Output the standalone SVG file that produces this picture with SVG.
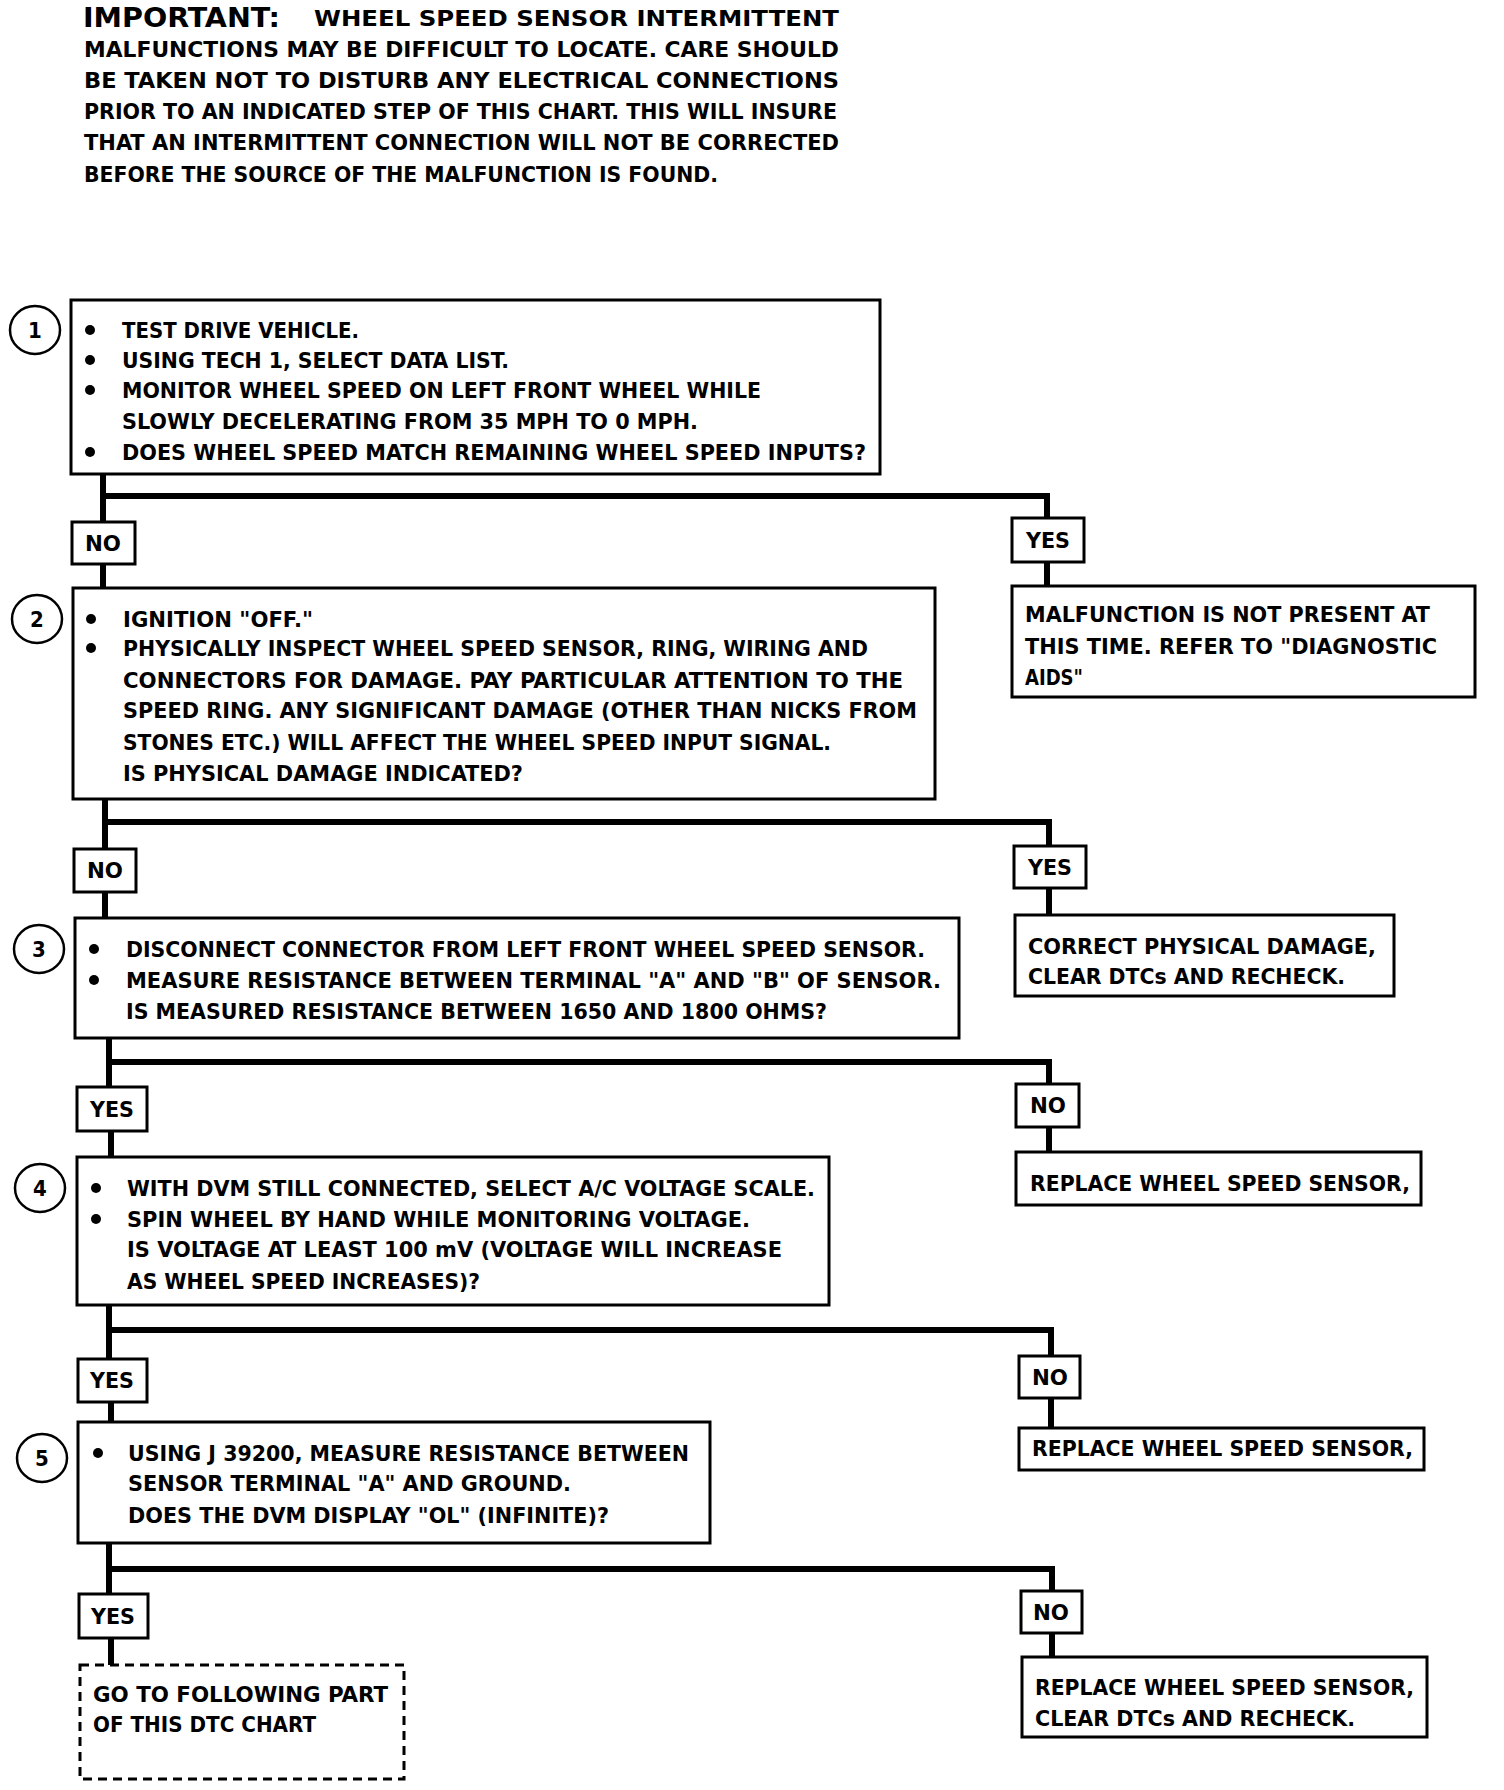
<svg xmlns="http://www.w3.org/2000/svg" width="1504" height="1790" viewBox="0 0 1504 1790">
<style>
text{font-family:"Liberation Sans Narrow","DejaVu Sans Condensed","Liberation Sans",sans-serif;font-weight:bold;font-size:22px;fill:#000}
.hd{font-size:22px}
.imp{font-size:26px;font-weight:bold;font-family:"DejaVu Sans Condensed","Liberation Sans",sans-serif}
.box{fill:#fff;stroke:#000;stroke-width:3}
.lbl{fill:#fff;stroke:#000;stroke-width:3}
.dash{fill:#fff;stroke:#000;stroke-width:3;stroke-dasharray:9 6}
.num{fill:#fff;stroke:#000;stroke-width:2.5}
.ln{fill:none;stroke:#000;stroke-width:6;stroke-linecap:square}
.bul{fill:#000}
.c{text-anchor:middle}
</style>
<rect width="1504" height="1790" fill="#fff"/>

<g id="note">
<text class="imp" x="83" y="27" textLength="197" lengthAdjust="spacingAndGlyphs">IMPORTANT:</text>
<text class="hd" x="314" y="26" textLength="525" lengthAdjust="spacingAndGlyphs">WHEEL SPEED SENSOR INTERMITTENT</text>
<text class="hd" x="84" y="57" textLength="755" lengthAdjust="spacingAndGlyphs">MALFUNCTIONS MAY BE DIFFICULT TO LOCATE.  CARE SHOULD</text>
<text class="hd" x="84" y="88" textLength="755" lengthAdjust="spacingAndGlyphs">BE TAKEN NOT TO DISTURB ANY ELECTRICAL CONNECTIONS</text>
<text class="hd" x="84" y="119" textLength="753" lengthAdjust="spacingAndGlyphs">PRIOR TO AN INDICATED STEP OF THIS CHART.  THIS WILL INSURE</text>
<text class="hd" x="84" y="150" textLength="755" lengthAdjust="spacingAndGlyphs">THAT AN INTERMITTENT CONNECTION WILL NOT BE CORRECTED</text>
<text class="hd" x="84" y="182" textLength="634" lengthAdjust="spacingAndGlyphs">BEFORE THE SOURCE OF THE MALFUNCTION IS FOUND.</text>
</g>

<g id="connectors">
<path class="ln" d="M103,474 V522 M103,496 H1047 V518 M103,564 V588 M1047,562 V586"/>
<path class="ln" d="M105,799 V849 M105,822 H1049 V846 M105,892 V918 M1049,888 V915"/>
<path class="ln" d="M109,1038 V1087 M109,1062 H1049 V1084 M111,1131 V1157 M1049,1127 V1152"/>
<path class="ln" d="M109,1305 V1359 M109,1330 H1051 V1356 M111,1402 V1422 M1051,1398 V1428"/>
<path class="ln" d="M109,1543 V1594 M109,1569 H1052 V1591 M111,1638 V1665 M1052,1633 V1657"/>
</g>

<g id="step1">
<ellipse class="num" cx="35" cy="330" rx="25" ry="24"/>
<text class="c" x="35" y="338">1</text>
<rect class="box" x="71" y="300" width="809" height="174"/>
<circle class="bul" cx="90" cy="330" r="5"/>
<circle class="bul" cx="90" cy="360" r="5"/>
<circle class="bul" cx="90" cy="390" r="5"/>
<circle class="bul" cx="90" cy="452" r="5"/>
<text x="122" y="338" textLength="237" lengthAdjust="spacingAndGlyphs">TEST DRIVE VEHICLE.</text>
<text x="122" y="368" textLength="387" lengthAdjust="spacingAndGlyphs">USING TECH 1, SELECT DATA LIST.</text>
<text x="122" y="398" textLength="639" lengthAdjust="spacingAndGlyphs">MONITOR WHEEL SPEED ON LEFT FRONT WHEEL WHILE</text>
<text x="122" y="429" textLength="576" lengthAdjust="spacingAndGlyphs">SLOWLY DECELERATING FROM 35 MPH TO 0 MPH.</text>
<text x="122" y="460" textLength="744" lengthAdjust="spacingAndGlyphs">DOES WHEEL SPEED MATCH REMAINING WHEEL SPEED INPUTS?</text>
</g>

<g id="no1">
<rect class="lbl" x="72" y="522" width="63" height="42"/>
<text class="c" x="103" y="551" textLength="36" lengthAdjust="spacingAndGlyphs">NO</text>
</g>
<g id="yes1">
<rect class="lbl" x="1012" y="518" width="72" height="44"/>
<text class="c" x="1048" y="548" textLength="44" lengthAdjust="spacingAndGlyphs">YES</text>
</g>
<g id="result1">
<rect class="box" x="1012" y="586" width="463" height="111"/>
<text x="1025" y="622" textLength="405" lengthAdjust="spacingAndGlyphs">MALFUNCTION IS NOT PRESENT AT</text>
<text x="1025" y="654" textLength="412" lengthAdjust="spacingAndGlyphs">THIS TIME.  REFER TO "DIAGNOSTIC</text>
<text x="1025" y="685" textLength="58" lengthAdjust="spacingAndGlyphs">AIDS"</text>
</g>

<g id="step2">
<ellipse class="num" cx="37" cy="619" rx="25" ry="24"/>
<text class="c" x="37" y="627">2</text>
<rect class="box" x="73" y="588" width="862" height="211"/>
<circle class="bul" cx="91" cy="619" r="5"/>
<circle class="bul" cx="91" cy="648" r="5"/>
<text x="123" y="627" textLength="190" lengthAdjust="spacingAndGlyphs">IGNITION "OFF."</text>
<text x="123" y="656" textLength="745" lengthAdjust="spacingAndGlyphs">PHYSICALLY INSPECT WHEEL SPEED SENSOR, RING, WIRING AND</text>
<text x="123" y="688" textLength="780" lengthAdjust="spacingAndGlyphs">CONNECTORS FOR DAMAGE.  PAY PARTICULAR ATTENTION TO THE</text>
<text x="123" y="718" textLength="794" lengthAdjust="spacingAndGlyphs">SPEED RING.  ANY SIGNIFICANT DAMAGE (OTHER THAN NICKS FROM</text>
<text x="123" y="750" textLength="708" lengthAdjust="spacingAndGlyphs">STONES ETC.) WILL AFFECT THE WHEEL SPEED INPUT SIGNAL.</text>
<text x="123" y="781" textLength="400" lengthAdjust="spacingAndGlyphs">IS PHYSICAL DAMAGE INDICATED?</text>
</g>

<g id="no2">
<rect class="lbl" x="74" y="849" width="62" height="43"/>
<text class="c" x="105" y="878" textLength="36" lengthAdjust="spacingAndGlyphs">NO</text>
</g>
<g id="yes2">
<rect class="lbl" x="1014" y="846" width="72" height="42"/>
<text class="c" x="1050" y="875" textLength="44" lengthAdjust="spacingAndGlyphs">YES</text>
</g>
<g id="result2">
<rect class="box" x="1015" y="915" width="379" height="81"/>
<text x="1028" y="954" textLength="348" lengthAdjust="spacingAndGlyphs">CORRECT PHYSICAL DAMAGE,</text>
<text x="1028" y="984" textLength="317" lengthAdjust="spacingAndGlyphs">CLEAR DTCs AND RECHECK.</text>
</g>

<g id="step3">
<ellipse class="num" cx="39" cy="949" rx="25" ry="24"/>
<text class="c" x="39" y="957">3</text>
<rect class="box" x="75" y="918" width="884" height="120"/>
<circle class="bul" cx="94" cy="949" r="5"/>
<circle class="bul" cx="94" cy="980" r="5"/>
<text x="126" y="957" textLength="799" lengthAdjust="spacingAndGlyphs">DISCONNECT CONNECTOR FROM LEFT FRONT WHEEL SPEED SENSOR.</text>
<text x="126" y="988" textLength="815" lengthAdjust="spacingAndGlyphs">MEASURE RESISTANCE BETWEEN TERMINAL "A" AND "B" OF SENSOR.</text>
<text x="126" y="1019" textLength="701" lengthAdjust="spacingAndGlyphs">IS MEASURED RESISTANCE BETWEEN 1650 AND 1800 OHMS?</text>
</g>

<g id="yes3">
<rect class="lbl" x="77" y="1087" width="70" height="44"/>
<text class="c" x="112" y="1117" textLength="44" lengthAdjust="spacingAndGlyphs">YES</text>
</g>
<g id="no3">
<rect class="lbl" x="1016" y="1084" width="63" height="43"/>
<text class="c" x="1048" y="1113" textLength="36" lengthAdjust="spacingAndGlyphs">NO</text>
</g>
<g id="result3">
<rect class="box" x="1016" y="1152" width="405" height="53"/>
<text x="1030" y="1191" textLength="380" lengthAdjust="spacingAndGlyphs">REPLACE WHEEL SPEED SENSOR,</text>
</g>

<g id="step4">
<ellipse class="num" cx="40" cy="1188" rx="25" ry="24"/>
<text class="c" x="40" y="1196">4</text>
<rect class="box" x="77" y="1157" width="752" height="148"/>
<circle class="bul" cx="96" cy="1188" r="5"/>
<circle class="bul" cx="96" cy="1219" r="5"/>
<text x="127" y="1196" textLength="688" lengthAdjust="spacingAndGlyphs">WITH DVM STILL CONNECTED, SELECT A/C VOLTAGE SCALE.</text>
<text x="127" y="1227" textLength="623" lengthAdjust="spacingAndGlyphs">SPIN WHEEL BY HAND WHILE MONITORING VOLTAGE.</text>
<text x="127" y="1257" textLength="655" lengthAdjust="spacingAndGlyphs">IS VOLTAGE AT LEAST 100 mV (VOLTAGE WILL INCREASE</text>
<text x="127" y="1289" textLength="353" lengthAdjust="spacingAndGlyphs">AS WHEEL SPEED INCREASES)?</text>
</g>

<g id="yes4">
<rect class="lbl" x="78" y="1359" width="69" height="43"/>
<text class="c" x="112" y="1388" textLength="44" lengthAdjust="spacingAndGlyphs">YES</text>
</g>
<g id="no4">
<rect class="lbl" x="1019" y="1356" width="61" height="42"/>
<text class="c" x="1050" y="1385" textLength="36" lengthAdjust="spacingAndGlyphs">NO</text>
</g>
<g id="result4">
<rect class="box" x="1019" y="1428" width="405" height="42"/>
<text x="1032" y="1456" textLength="381" lengthAdjust="spacingAndGlyphs">REPLACE WHEEL SPEED SENSOR,</text>
</g>

<g id="step5">
<ellipse class="num" cx="42" cy="1458" rx="25" ry="24"/>
<text class="c" x="42" y="1466">5</text>
<rect class="box" x="78" y="1422" width="632" height="121"/>
<circle class="bul" cx="98" cy="1453" r="5"/>
<text x="128" y="1461" textLength="561" lengthAdjust="spacingAndGlyphs">USING J 39200, MEASURE RESISTANCE BETWEEN</text>
<text x="128" y="1491" textLength="443" lengthAdjust="spacingAndGlyphs">SENSOR TERMINAL "A" AND GROUND.</text>
<text x="128" y="1523" textLength="481" lengthAdjust="spacingAndGlyphs">DOES THE DVM DISPLAY "OL" (INFINITE)?</text>
</g>

<g id="yes5">
<rect class="lbl" x="79" y="1594" width="69" height="44"/>
<text class="c" x="113" y="1624" textLength="44" lengthAdjust="spacingAndGlyphs">YES</text>
</g>
<g id="no5">
<rect class="lbl" x="1021" y="1591" width="61" height="42"/>
<text class="c" x="1051" y="1620" textLength="36" lengthAdjust="spacingAndGlyphs">NO</text>
</g>
<g id="next">
<rect class="dash" x="80" y="1665" width="324" height="114"/>
<text x="93" y="1702" textLength="295" lengthAdjust="spacingAndGlyphs">GO TO FOLLOWING PART</text>
<text x="93" y="1732" textLength="223" lengthAdjust="spacingAndGlyphs">OF THIS DTC CHART</text>
</g>
<g id="result5">
<rect class="box" x="1022" y="1657" width="405" height="80"/>
<text x="1035" y="1695" textLength="379" lengthAdjust="spacingAndGlyphs">REPLACE WHEEL SPEED SENSOR,</text>
<text x="1035" y="1726" textLength="320" lengthAdjust="spacingAndGlyphs">CLEAR DTCs AND RECHECK.</text>
</g>
</svg>
